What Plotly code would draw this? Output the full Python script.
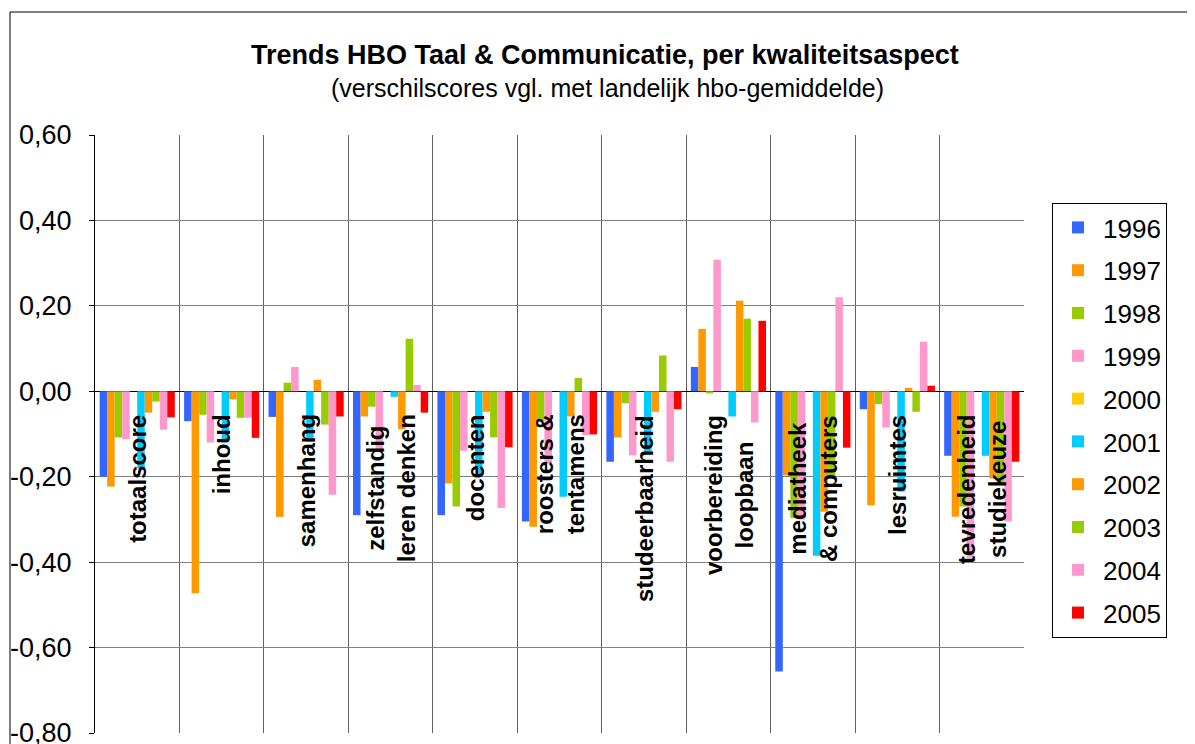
import plotly.graph_objects as go

# quality aspects (x categories)
CATEGORIES = [
    "totaalscore",
    "inhoud",
    "samenhang",
    "zelfstandig<br>leren denken",
    "docenten",
    "roosters &<br>tentamens",
    "studeerbaarheid",
    "voorbereiding<br>loopbaan",
    "mediatheek<br>& computers",
    "lesruimtes",
    "tevredenheid<br>studiekeuze",
]

YEARS = ["1996", "1997", "1998", "1999", "2000", "2001", "2002", "2003", "2004", "2005"]
COLORS = [
    "#3366FF", "#FF9900", "#99CC00", "#FF99CC", "#FFCC00",
    "#00CCFF", "#FF9900", "#99CC00", "#FF99CC", "#FF0000",
]

# difference scores vs national hbo average, one list per year
V1996 = [-0.200, -0.070, -0.060, -0.290, -0.290, -0.305, -0.165, 0.057, -0.656, -0.042, -0.151]
V1997 = [-0.223, -0.473, -0.294, -0.059, -0.216, -0.317, -0.108, 0.146, -0.197, -0.267, -0.294]
V1998 = [-0.108, -0.055, 0.020, -0.036, -0.270, -0.070, -0.028, -0.005, -0.297, -0.030, -0.270]
V1999 = [-0.112, -0.120, 0.057, -0.139, -0.139, -0.169, -0.150, 0.308, -0.300, -0.085, -0.390]
V2000 = [None] * 11  # no data
V2001 = [-0.180, -0.120, -0.118, -0.013, -0.200, -0.247, -0.145, -0.059, -0.385, -0.235, -0.151]
V2002 = [-0.050, -0.019, 0.027, -0.089, -0.048, -0.059, -0.048, 0.212, -0.282, 0.008, -0.204]
V2003 = [-0.024, -0.062, -0.078, 0.123, -0.108, 0.031, 0.084, 0.170, -0.200, -0.048, -0.220]
V2004 = [-0.090, -0.062, -0.242, 0.015, -0.273, -0.103, -0.165, -0.073, 0.220, 0.116, -0.305]
V2005 = [-0.061, -0.109, -0.059, -0.050, -0.131, -0.101, -0.042, 0.165, -0.132, 0.013, -0.165]

VALUES = [V1996, V1997, V1998, V1999, V2000, V2001, V2002, V2003, V2004, V2005]

Y_TICKS = [0.6, 0.4, 0.2, 0.0, -0.2, -0.4, -0.6, -0.8]
Y_TICKTEXT = ["0,60", "0,40", "0,20", "0,00", "-0,20", "-0,40", "-0,60", "-0,80"]

FONT = "Arial, Liberation Sans, sans-serif"

# the page body has an 8px margin, so the figure is sized/positioned to compensate
W, H = 1187, 736
ML, MT = 87, 127
PW, PH = 929, 598


def px_x(x):
    return (x - 8 - ML) / PW


def px_y(y):
    return (MT + PH - (y - 8)) / PH


fig = go.Figure()

for i, (year, vals, col) in enumerate(zip(YEARS, VALUES, COLORS)):
    fig.add_trace(
        go.Bar(
            x=CATEGORIES,
            y=vals,
            name=year,
            marker=dict(color=col, line=dict(width=0)),
            legendgroup=f"g{i}",
            hovertemplate=f"<b>{year}</b> %{{x}}: %{{y:.2f}}<extra></extra>",
        )
    )

# category labels drawn inside the plot, rotated
for cat in CATEGORIES:
    fig.add_annotation(
        x=cat,
        y=-0.05,
        xref="x",
        yref="y",
        text=f"<b>{cat}</b>",
        textangle=-90,
        showarrow=False,
        xanchor="center",
        yanchor="top",
        align="center",
        font=dict(family=FONT, size=24, color="black"),
    )

# title + subtitle
fig.add_annotation(
    x=px_x(605), y=px_y(55), xref="paper", yref="paper",
    text="<b>Trends HBO Taal & Communicatie, per kwaliteitsaspect</b>",
    showarrow=False, xanchor="center", yanchor="middle",
    font=dict(family=FONT, size=27, color="black"),
)
fig.add_annotation(
    x=px_x(607), y=px_y(88), xref="paper", yref="paper",
    text="(verschilscores vgl. met landelijk hbo-gemiddelde)",
    showarrow=False, xanchor="center", yanchor="middle",
    font=dict(family=FONT, size=25, color="black"),
)

# outer chart frame
fig.add_shape(
    type="rect", xref="paper", yref="paper",
    x0=px_x(10), x1=px_x(1193),
    y0=px_y(760), y1=px_y(12),
    line=dict(color="black", width=1), fillcolor="rgba(0,0,0,0)",
    layer="below",
)

fig.update_layout(
    width=W,
    height=H,
    margin=dict(l=ML, r=W - ML - PW, t=MT, b=H - MT - PH),
    paper_bgcolor="white",
    plot_bgcolor="white",
    font=dict(family=FONT, size=24, color="black"),
    barmode="group",
    bargap=0.11,
    bargroupgap=0,
    showlegend=True,
    legend=dict(
        x=px_x(1052),
        y=px_y(203),
        xanchor="left",
        yanchor="top",
        bordercolor="black",
        borderwidth=1,
        bgcolor="white",
        font=dict(family=FONT, size=26, color="black"),
        tracegroupgap=6,
        traceorder="grouped",
        itemwidth=40,
    ),
    xaxis=dict(
        showticklabels=False,
        tickson="boundaries",
        showgrid=True,
        gridcolor="#606060",
        gridwidth=1,
        ticks="",
        showline=False,
        automargin=False,
    ),
    yaxis=dict(
        range=[-0.8, 0.6],
        tickvals=Y_TICKS,
        ticktext=Y_TICKTEXT,
        showgrid=True,
        gridcolor="#808080",
        gridwidth=1,
        zeroline=True,
        zerolinecolor="black",
        zerolinewidth=1,
        showline=True,
        linecolor="black",
        linewidth=1,
        ticks="outside",
        ticklen=5,
        tickcolor="black",
        ticklabelstandoff=12,
        ticklabeloverflow="allow",
        automargin=False,
        tickfont=dict(family=FONT, size=27, color="black"),
    ),
)

fig.write_html("out.html")
